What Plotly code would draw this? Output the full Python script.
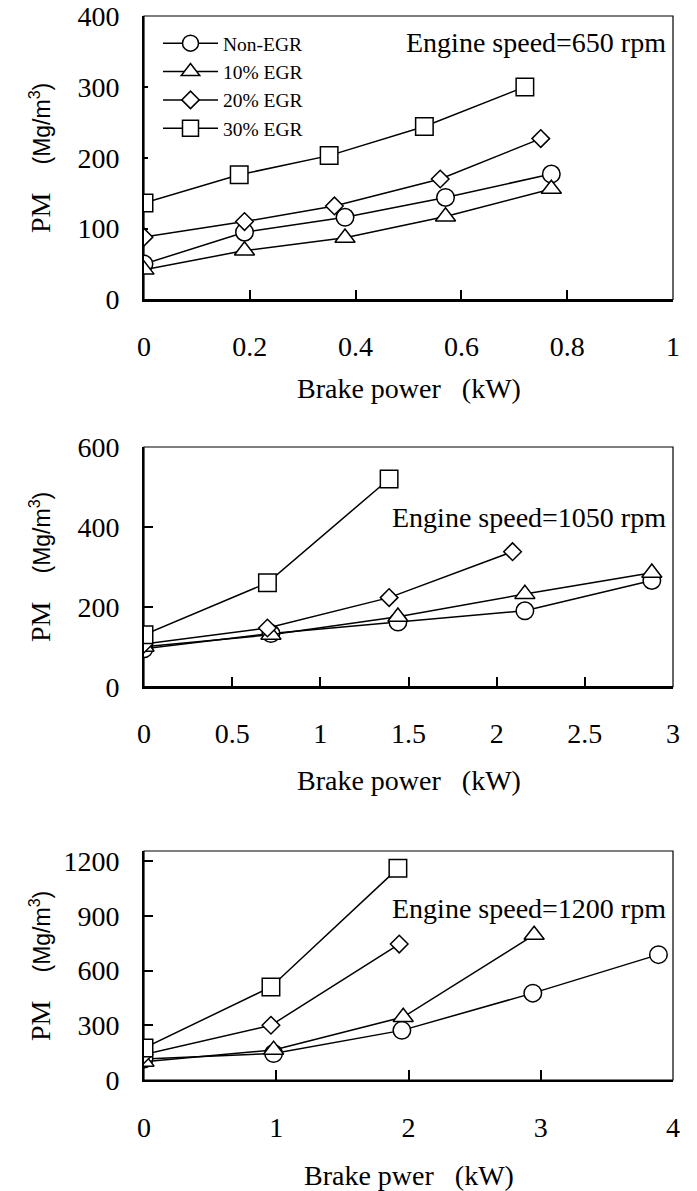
import plotly.graph_objects as go

# ---------------- data ----------------
series_names = ["Non-EGR", "10% EGR", "20% EGR", "30% EGR"]
symbols = ["circle", "triangle-up", "diamond", "square"]

# Engine speed = 650 rpm
x650_non = [0, 0.19, 0.38, 0.57, 0.77]
y650_non = [50, 95, 116, 144, 177]
x650_10 = [0, 0.19, 0.38, 0.57, 0.77]
y650_10 = [42, 69, 87, 117, 156]
x650_20 = [0, 0.19, 0.36, 0.56, 0.75]
y650_20 = [88, 110, 132, 170, 227]
x650_30 = [0, 0.18, 0.35, 0.53, 0.72]
y650_30 = [136, 176, 203, 244, 300]

# Engine speed = 1050 rpm
x1050_non = [0, 0.72, 1.44, 2.16, 2.88]
y1050_non = [95, 133, 162, 190, 266]
x1050_10 = [0, 0.72, 1.44, 2.16, 2.88]
y1050_10 = [100, 130, 175, 232, 285]
x1050_20 = [0, 0.70, 1.39, 2.09]
y1050_20 = [107, 147, 223, 338]
x1050_30 = [0, 0.70, 1.39]
y1050_30 = [130, 260, 520]

# Engine speed = 1200 rpm
x1200_non = [0, 0.98, 1.95, 2.94, 3.89]
y1200_non = [115, 145, 272, 476, 687]
x1200_10 = [0, 0.98, 1.96, 2.95]
y1200_10 = [100, 165, 345, 795]
x1200_20 = [0, 0.96, 1.93]
y1200_20 = [140, 300, 745]
x1200_30 = [0, 0.96, 1.92]
y1200_30 = [175, 510, 1160]

panel_labels = ["Engine speed=650 rpm", "Engine speed=1050 rpm", "Engine speed=1200 rpm"]
x_titles = ["Brake power&nbsp;&nbsp;&nbsp;(kW)", "Brake power&nbsp;&nbsp;&nbsp;(kW)", "Brake pwer&nbsp;&nbsp;&nbsp;(kW)"]
x_ticks = [[0, 0.2, 0.4, 0.6, 0.8, 1], [0, 0.5, 1, 1.5, 2, 2.5, 3], [0, 1, 2, 3, 4]]
x_ranges = [[0, 1], [0, 3], [0, 4]]
y_ticks = [[0, 100, 200, 300, 400], [0, 200, 400, 600], [0, 300, 600, 900, 1200]]
y_ranges = [[0, 400], [0, 600], [0, 1255]]

panels = [
    [(x650_non, y650_non), (x650_10, y650_10), (x650_20, y650_20), (x650_30, y650_30)],
    [(x1050_non, y1050_non), (x1050_10, y1050_10), (x1050_20, y1050_20), (x1050_30, y1050_30)],
    [(x1200_non, y1200_non), (x1200_10, y1200_10), (x1200_20, y1200_20), (x1200_30, y1200_30)],
]

# ---------------- layout geometry ----------------
W, H = 697, 1191


def px(x):
    return x / W


def py(y):
    return 1 - y / H


xdom = [px(144), px(673)]
ydoms = [[py(299.5), py(16)], [py(686.7), py(447)], [py(1080), py(851)]]
ytick_len = [4, 9, 9]

SERIF = "Liberation Serif, Times New Roman, serif"
SANS = "Liberation Sans, Arial, sans-serif"
marker_sizes = [17.5, 17.5, 13.5, 17.5]

fig = go.Figure()
for p, data in enumerate(panels):
    xa = "x" if p == 0 else f"x{p+1}"
    ya = "y" if p == 0 else f"y{p+1}"
    for s, (xs, ys) in enumerate(data):
        fig.add_trace(go.Scatter(
            x=xs, y=ys, mode="lines+markers", name=series_names[s],
            xaxis=xa, yaxis=ya, showlegend=(p == 0), legendgroup=series_names[s],
            line=dict(color="black", width=1.5),
            marker=dict(symbol=symbols[s], size=marker_sizes[s],
                        color="white", line=dict(color="black", width=1.5)),
        ))

layout = dict(
    width=W, height=H, margin=dict(l=0, r=0, t=0, b=0, pad=0, autoexpand=False),
    paper_bgcolor="white", plot_bgcolor="white",
    font=dict(family=SERIF, color="black", size=28),
    legend=dict(x=px(158), y=py(24), xanchor="left", yanchor="top",
                bgcolor="rgba(0,0,0,0)", itemwidth=55, tracegroupgap=0,
                font=dict(family=SERIF, size=19.5, color="black")),
    annotations=[], shapes=[],
)
for p in range(3):
    xk = "xaxis" if p == 0 else f"xaxis{p+1}"
    yk = "yaxis" if p == 0 else f"yaxis{p+1}"
    ya = "y" if p == 0 else f"y{p+1}"
    xa = "x" if p == 0 else f"x{p+1}"
    layout[xk] = dict(domain=xdom, anchor=ya, range=x_ranges[p], tickvals=x_ticks[p],
                      showgrid=False, zeroline=False, showline=True, linecolor="black", linewidth=2,
                      ticks="inside", ticklen=10, tickwidth=1.5, tickcolor="black",
                      tickfont=dict(family=SERIF, size=28, color="black"),
                      ticklabelstandoff=21, automargin=False, fixedrange=True)
    layout[yk] = dict(domain=ydoms[p], anchor=xa, range=y_ranges[p], tickvals=y_ticks[p],
                      showgrid=False, zeroline=False, showline=True, linecolor="black", linewidth=2,
                      ticks="inside", ticklen=ytick_len[p], tickwidth=1.5, tickcolor="black",
                      tickfont=dict(family=SERIF, size=28, color="black"),
                      ticklabelstandoff=17, automargin=False, fixedrange=True)
    # frame (top and right edges)
    layout["shapes"].append(dict(type="rect", xref=f"{xa} domain", yref=f"{ya} domain",
                                 x0=0, x1=1, y0=0, y1=1, line=dict(color="black", width=1.2),
                                 fillcolor="rgba(0,0,0,0)", layer="below"))
    # panel label
    lab_y = [43, 518, 908][p]
    layout["annotations"].append(dict(text=panel_labels[p], xref="paper", yref="paper",
                                      x=px(668), y=py(lab_y), xanchor="right", yanchor="middle",
                                      showarrow=False, font=dict(family=SERIF, size=28, color="black")))
    # x axis title
    xt_y = [388, 780, 1175][p]
    layout["annotations"].append(dict(text=x_titles[p], xref="paper", yref="paper",
                                      x=px((144 + 673) / 2), y=py(xt_y), xanchor="center", yanchor="middle",
                                      showarrow=False, font=dict(family=SERIF, size=28, color="black")))
    # y axis title
    yc = [158, 567, 966][p]
    layout["annotations"].append(dict(
        text="PM&nbsp;&nbsp;&nbsp;&nbsp;<span style=\"font-family:" + SANS + ";font-size:23px\">(Mg/m<sup>3</sup>)</span>",
        xref="paper", yref="paper", x=px(40), y=py(yc), xanchor="center", yanchor="middle",
        textangle=-90, showarrow=False, font=dict(family=SERIF, size=28, color="black")))

fig.update_layout(**layout)
fig.write_html("out.html", config={"displayModeBar": False},
               post_script="document.body.style.margin='0';document.body.style.overflow='hidden';")
